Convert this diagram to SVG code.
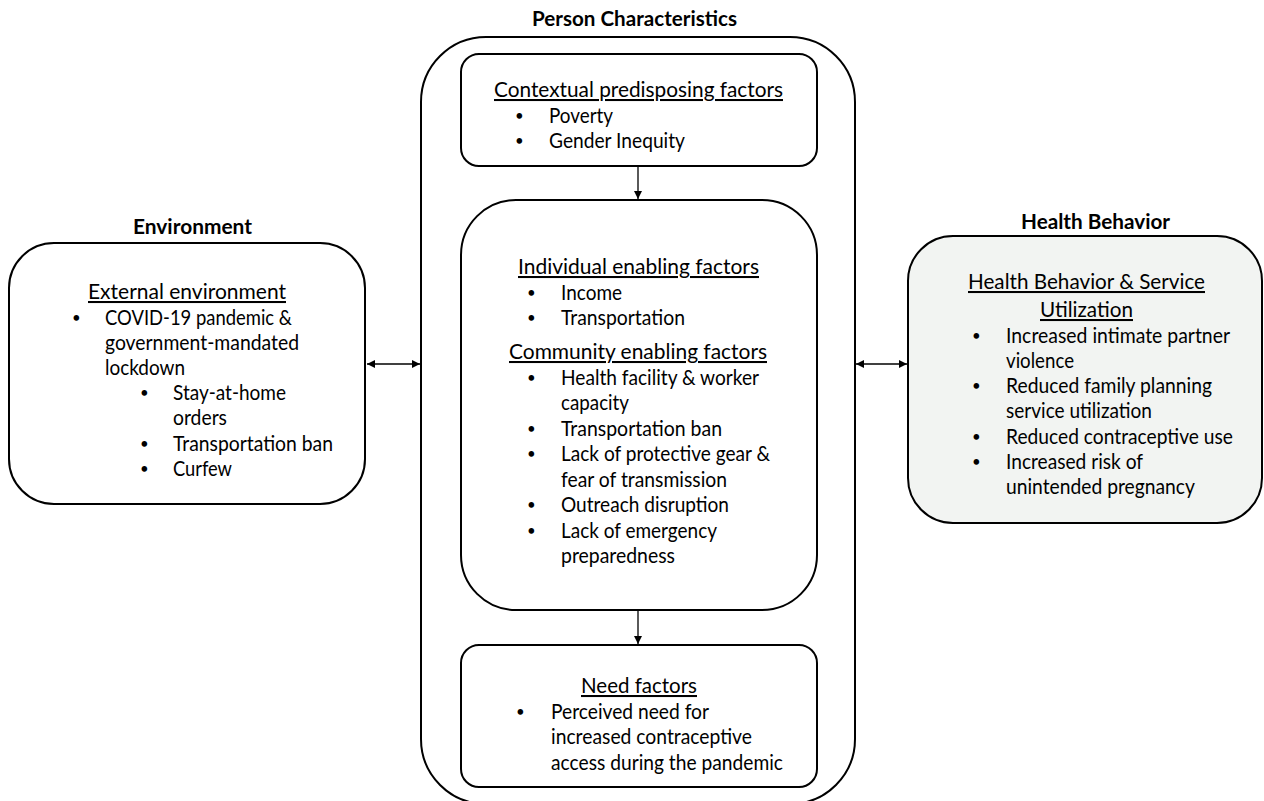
<svg xmlns="http://www.w3.org/2000/svg" width="1264" height="801" viewBox="0 0 1264 801">
<style>
text{font-family:Lato,"Open Sans","Liberation Sans",sans-serif;font-size:20.5px;fill:#000}
.t{font-weight:bold;font-size:20.7px;text-anchor:middle}
.h{text-decoration:underline;text-anchor:middle}
.b{font-size:15px}
.box{fill:#fff;stroke:#000;stroke-width:2}
.conn{stroke:#000;stroke-width:1.3;fill:none}
</style>
<defs>
<marker id="ah" viewBox="0 0 10 10" refX="10" refY="5" markerWidth="8" markerHeight="8" markerUnits="userSpaceOnUse" orient="auto-start-reverse"><path d="M0,0 L10,5 L0,10 z" fill="#000"/></marker>
</defs>
<g id="person">
<rect class="box" x="421" y="37" width="434" height="767" rx="65"/>
<text class="t" x="634.5" y="26" textLength="205" lengthAdjust="spacingAndGlyphs">Person Characteristics</text>
</g>
<g id="contextual">
<rect class="box" x="461" y="54" width="356" height="112" rx="18"/>
<text class="h" x="638.5" y="97" textLength="289" lengthAdjust="spacingAndGlyphs">Contextual predisposing factors</text>
<text class="b" x="515" y="121">•</text><text x="549" y="123" textLength="64" lengthAdjust="spacingAndGlyphs">Poverty</text>
<text class="b" x="515" y="146">•</text><text x="549" y="148" textLength="136" lengthAdjust="spacingAndGlyphs">Gender Inequity</text>
</g>
<g id="enabling">
<rect class="box" x="461" y="200" width="356" height="410" rx="55"/>
<text class="h" x="638.5" y="274" textLength="241" lengthAdjust="spacingAndGlyphs">Individual enabling factors</text>
<text class="b" x="527" y="298">•</text><text x="561" y="300" textLength="61" lengthAdjust="spacingAndGlyphs">Income</text>
<text class="b" x="527" y="323">•</text><text x="561" y="325" textLength="124" lengthAdjust="spacingAndGlyphs">Transportation</text>
<text class="h" x="638" y="359" textLength="258" lengthAdjust="spacingAndGlyphs">Community enabling factors</text>
<text class="b" x="527" y="383">•</text><text x="561" y="385" textLength="198" lengthAdjust="spacingAndGlyphs">Health facility &amp; worker</text>
<text x="561" y="410" textLength="68" lengthAdjust="spacingAndGlyphs">capacity</text>
<text class="b" x="527" y="434">•</text><text x="561" y="436" textLength="161" lengthAdjust="spacingAndGlyphs">Transportation ban</text>
<text class="b" x="527" y="459">•</text><text x="561" y="461" textLength="209" lengthAdjust="spacingAndGlyphs">Lack of protective gear &amp;</text>
<text x="561" y="487" textLength="166" lengthAdjust="spacingAndGlyphs">fear of transmission</text>
<text class="b" x="527" y="510">•</text><text x="561" y="512" textLength="168" lengthAdjust="spacingAndGlyphs">Outreach disruption</text>
<text class="b" x="527" y="536">•</text><text x="561" y="538" textLength="156" lengthAdjust="spacingAndGlyphs">Lack of emergency</text>
<text x="561" y="563" textLength="114" lengthAdjust="spacingAndGlyphs">preparedness</text>
</g>
<g id="need">
<rect class="box" x="461" y="645" width="356" height="142" rx="18"/>
<text class="h" x="639" y="693" textLength="116" lengthAdjust="spacingAndGlyphs">Need factors</text>
<text class="b" x="516" y="717">•</text><text x="551" y="719" textLength="158" lengthAdjust="spacingAndGlyphs">Perceived need for</text>
<text x="551" y="744" textLength="201" lengthAdjust="spacingAndGlyphs">increased contraceptive</text>
<text x="551" y="770" textLength="232" lengthAdjust="spacingAndGlyphs">access during the pandemic</text>
</g>
<g id="environment">
<text class="t" x="192.5" y="234" textLength="119" lengthAdjust="spacingAndGlyphs">Environment</text>
<rect class="box" x="9" y="243" width="356" height="261" rx="45"/>
<text class="h" x="187" y="299" textLength="198" lengthAdjust="spacingAndGlyphs">External environment</text>
<text class="b" x="72" y="323">•</text><text x="105" y="325" textLength="187" lengthAdjust="spacingAndGlyphs">COVID-19 pandemic &amp;</text>
<text x="105" y="350" textLength="194" lengthAdjust="spacingAndGlyphs">government-mandated</text>
<text x="105" y="375" textLength="80" lengthAdjust="spacingAndGlyphs">lockdown</text>
<text class="b" x="140" y="398">•</text><text x="173" y="400" textLength="113" lengthAdjust="spacingAndGlyphs">Stay-at-home</text>
<text x="173" y="425" textLength="54" lengthAdjust="spacingAndGlyphs">orders</text>
<text class="b" x="140" y="449">•</text><text x="173" y="451" textLength="160" lengthAdjust="spacingAndGlyphs">Transportation ban</text>
<text class="b" x="140" y="474">•</text><text x="173" y="476" textLength="59" lengthAdjust="spacingAndGlyphs">Curfew</text>
</g>
<g id="health">
<text class="t" x="1095.5" y="229" textLength="149" lengthAdjust="spacingAndGlyphs">Health Behavior</text>
<rect class="box" x="908" y="236" width="354" height="287" rx="45" style="fill:#f2f4f2"/>
<text class="h" x="1086.5" y="289" textLength="237" lengthAdjust="spacingAndGlyphs">Health Behavior &amp; Service</text>
<text class="h" x="1086.5" y="317" textLength="93" lengthAdjust="spacingAndGlyphs">Utilization</text>
<text class="b" x="972" y="341">•</text><text x="1006" y="343" textLength="224" lengthAdjust="spacingAndGlyphs">Increased intimate partner</text>
<text x="1006" y="368" textLength="68" lengthAdjust="spacingAndGlyphs">violence</text>
<text class="b" x="972" y="391">•</text><text x="1006" y="393" textLength="206" lengthAdjust="spacingAndGlyphs">Reduced family planning</text>
<text x="1006" y="418" textLength="146" lengthAdjust="spacingAndGlyphs">service utilization</text>
<text class="b" x="972" y="442">•</text><text x="1006" y="444" textLength="227" lengthAdjust="spacingAndGlyphs">Reduced contraceptive use</text>
<text class="b" x="972" y="467">•</text><text x="1006" y="469" textLength="137" lengthAdjust="spacingAndGlyphs">Increased risk of</text>
<text x="1006" y="494" textLength="189" lengthAdjust="spacingAndGlyphs">unintended pregnancy</text>
</g>
<g id="connectors">
<line class="conn" x1="638" y1="166" x2="638" y2="199" marker-end="url(#ah)"/>
<line class="conn" x1="638" y1="610" x2="638" y2="644" marker-end="url(#ah)"/>
<line class="conn" x1="367" y1="364" x2="420" y2="364" marker-start="url(#ah)" marker-end="url(#ah)"/>
<line class="conn" x1="856" y1="364" x2="907" y2="364" marker-start="url(#ah)" marker-end="url(#ah)"/>
</g>
</svg>
